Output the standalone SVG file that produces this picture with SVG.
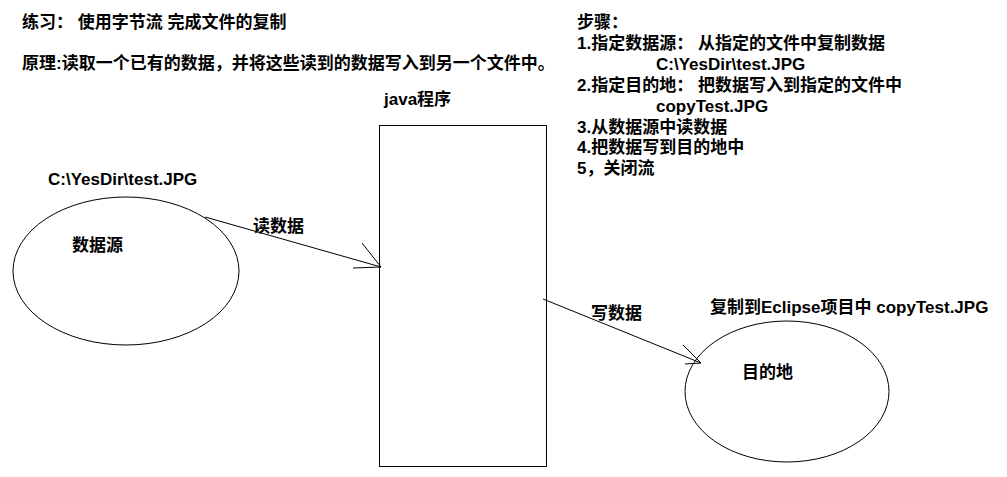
<svg xmlns="http://www.w3.org/2000/svg" width="1007" height="477" viewBox="0 0 1007 477">
<style>
.t{font-family:"Liberation Sans","Noto Sans CJK SC",sans-serif;font-size:17px;font-weight:bold;fill:#000}
.s{fill:none;stroke:#000;stroke-width:1}
</style>
<rect width="1007" height="477" fill="#fff"/>
<g id="notes">
<text class="t" x="22" y="28">练习： 使用字节流 完成文件的复制</text>
<text class="t" x="22" y="69">原理:读取一个已有的数据，并将这些读到的数据写入到另一个文件中。</text>
<text class="t" x="577" y="28">步骤：</text>
<text class="t" x="577" y="49">1.指定数据源： 从指定的文件中复制数据</text>
<text class="t" x="656" y="70">C:\YesDir\test.JPG</text>
<text class="t" x="577" y="91">2.指定目的地： 把数据写入到指定的文件中</text>
<text class="t" x="656" y="112">copyTest.JPG</text>
<text class="t" x="577" y="133">3.从数据源中读数据</text>
<text class="t" x="577" y="153">4.把数据写到目的地中</text>
<text class="t" x="577" y="174">5，关闭流</text>
</g>
<g id="source">
<ellipse class="s" cx="126" cy="271" rx="113" ry="74"/>
<text class="t" x="48" y="185">C:\YesDir\test.JPG</text>
<text class="t" x="72" y="251">数据源</text>
</g>
<g id="program">
<rect class="s" x="379.5" y="125.5" width="167" height="341"/>
<text class="t" x="384" y="105">java程序</text>
</g>
<g id="dest">
<ellipse class="s" cx="787" cy="391.5" rx="102" ry="70.5"/>
<text class="t" x="710" y="313">复制到Eclipse项目中 copyTest.JPG</text>
<text class="t" x="742" y="378">目的地</text>
</g>
<g id="connectors">
<line class="s" x1="205" y1="217" x2="381" y2="267"/>
<polyline class="s" points="362,243 381,267 353,268"/>
<text class="t" x="253" y="232">读数据</text>
<line class="s" x1="543" y1="299" x2="701" y2="363"/>
<polyline class="s" points="683,345 701,363 685,364"/>
<text class="t" x="591" y="319">写数据</text>
</g>
</svg>
